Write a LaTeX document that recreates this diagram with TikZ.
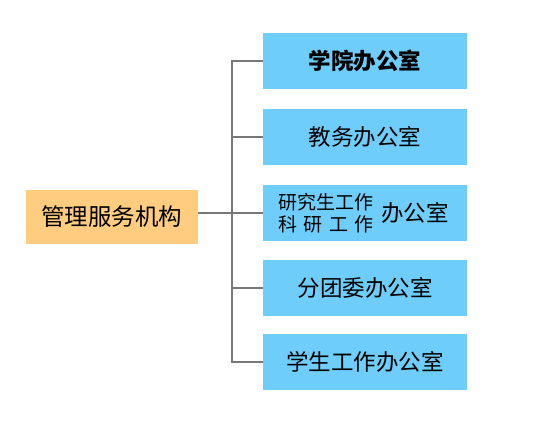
\documentclass[tikz,border=0pt]{standalone}
\usepackage{fontspec}
\setmainfont{Noto Sans CJK SC}
\begin{document}
\begin{tikzpicture}[x=1pt,y=-1pt,
  bluebox/.style={fill=boxblue,draw=none,minimum width=204pt,minimum height=56pt,inner sep=0pt,font=\fontsize{22.5}{26}\selectfont},
  rootbox/.style={fill=boxorange,draw=none,minimum width=172pt,minimum height=54pt,inner sep=0pt,font=\fontsize{23.5}{27}\selectfont},
  conn/.style={draw=linegray,line width=2pt}]
\definecolor{boxblue}{RGB}{110,205,250}
\definecolor{boxorange}{RGB}{255,204,128}
\definecolor{linegray}{RGB}{120,120,120}
\useasboundingbox (0,0) rectangle (557,434);
\node[rootbox] (root) at (112,217) {管理服务机构};
\node[bluebox] (b1) at (365,61) {\textbf{学院办公室}};
\node[bluebox] (b2) at (365,137) {教务办公室};
\node[bluebox] (b3) at (365,213) {};
\node[bluebox] (b4) at (365,288) {分团委办公室};
\node[bluebox] (b5) at (365,362) {学生工作办公室};
\node[inner sep=0pt,text width=96pt,font=\fontsize{19}{22}\selectfont,anchor=center] (b3a) at (326,213) {研究生工作\\科\hfill 研\hfill 工\hfill 作};
\node[inner sep=0pt,font=\fontsize{22.5}{26}\selectfont,anchor=west] (b3b) at (381,213) {办公室};
\coordinate (top) at (232,61);
\coordinate (bot) at (232,362);
\draw[conn] (b1.west) -- (top) -- (bot) -- (b5.west);
\draw[conn] (b2.west) -- (b2.west -| top);
\draw[conn] (b4.west) -- (b4.west -| top);
\draw[conn] (root.east |- b3.west) -- (b3.west);
\end{tikzpicture}
\end{document}
